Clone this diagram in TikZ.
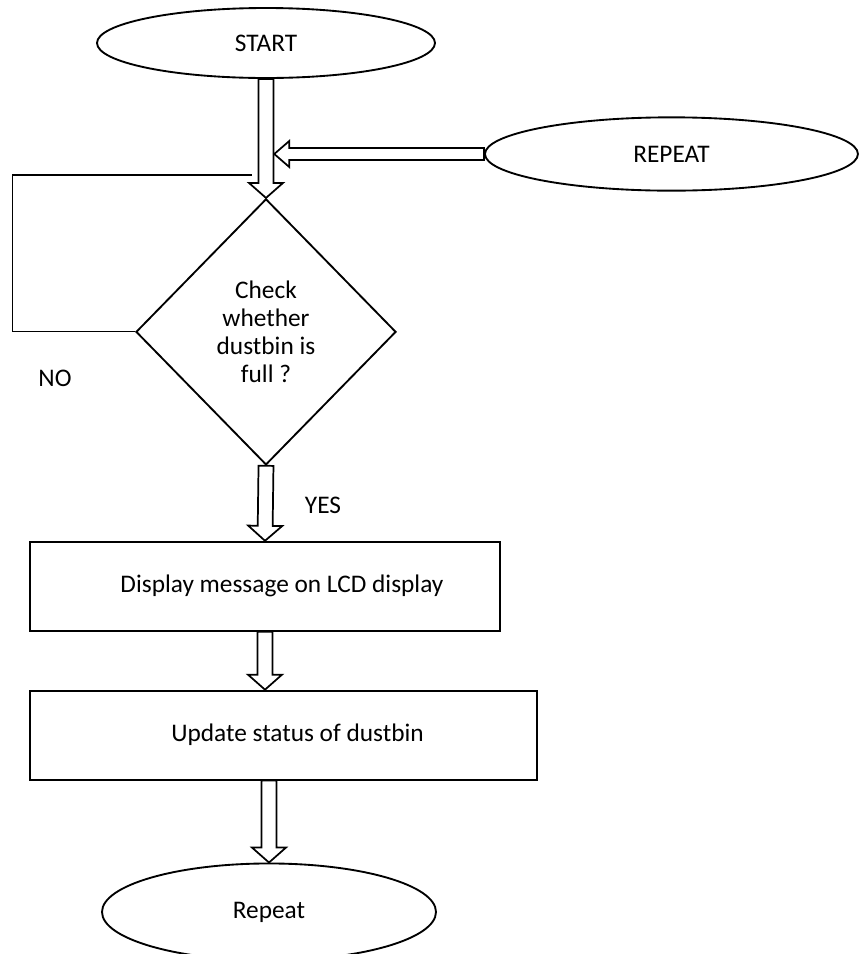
\documentclass[tikz,border=0pt]{standalone}
\usepackage{fontspec}
\setmainfont{Carlito}
\usepackage{tikz}
\usetikzlibrary{positioning,shapes,calc}
\tikzstyle{term}=[%
      ellipse, draw=black, line width=1.4pt, fill=white, inner sep=0pt
]
\tikzstyle{dec}=[%
      diamond, draw=black, line width=1.4pt, align=center, inner sep=0pt,
      minimum width=195pt, minimum height=199.5pt, font=\fontsize{19}{21}\selectfont
]
\tikzstyle{proc}=[%
      rectangle, draw=black, line width=1.4pt, minimum height=66.75pt, inner sep=0pt
]
\tikzstyle{blk}=[draw=black, line width=1.3pt, fill=white, line join=miter]
\tikzstyle{ln}=[draw=black, line width=0.8pt]
\newcommand{\shaftw}{5.6pt}
\newcommand{\headw}{12.75pt}
\newcommand{\headl}{11.25pt}
\newcommand{\hollowarrow}[2]{%
  \path ($(#2)!\headl!(#1)$) coordinate (hb);
  \draw[blk] ($(#1)!\shaftw!90:(#2)$) -- ($(hb)!\shaftw!90:(#2)$) -- ($(hb)!\headw!90:(#2)$) -- (#2)
    -- ($(hb)!\headw!-90:(#2)$) -- ($(hb)!\shaftw!-90:(#2)$) -- ($(#1)!\shaftw!-90:(#2)$) -- cycle;
}
\begin{document}
\begin{tikzpicture}[font=\fontsize{19}{23}\selectfont]
\useasboundingbox (-199.5pt,32.25pt) rectangle (445.5pt,-683.25pt);

\node[term, minimum width=253.5pt, minimum height=52.5pt](start) at (0,0){START};
\node[term, minimum width=279.75pt, minimum height=55pt](rep) at (304.1pt,-83.25pt){REPEAT};
\node[dec, below=89.25pt of start](dia){Check\\whether\\dustbin is\\full ?};
\node[proc, minimum width=352.5pt, below=56.25pt of dia, xshift=-0.75pt](disp){\hspace*{25.5pt}Display message on LCD display};
\node[proc, minimum width=380.25pt, below=43.5pt of disp, xshift=13.9pt](upd){\hspace*{21pt}Update status of dustbin};
\node[term, minimum width=250.5pt, minimum height=72.75pt, below=61.5pt of upd, xshift=-10.9pt](endn){Repeat};

\node(no) at (-158.25pt,-251.25pt){NO};
\node(yes) at ($(dia.south)+(42.75pt,-30pt)$){YES};

\path (start.south) ++(6.2pt,0) coordinate (tmp);
\coordinate (join) at (tmp |- rep.west);
\coordinate (a4) at (disp.south |- upd.north);
\coordinate (a5) at (endn.north |- upd.south);
\coordinate (noend) at (-10.5pt,-99pt);

\hollowarrow{start.south}{dia.north}
\hollowarrow{dia.south}{disp.north}
\hollowarrow{disp.south}{a4}
\hollowarrow{a5}{endn.north}
\renewcommand{\shaftw}{4.5pt}
\renewcommand{\headw}{9.75pt}
\hollowarrow{rep.west}{join}

\draw[ln](dia.west) -- ++(-92.25pt,0) |- (noend);
\end{tikzpicture}
\end{document}
